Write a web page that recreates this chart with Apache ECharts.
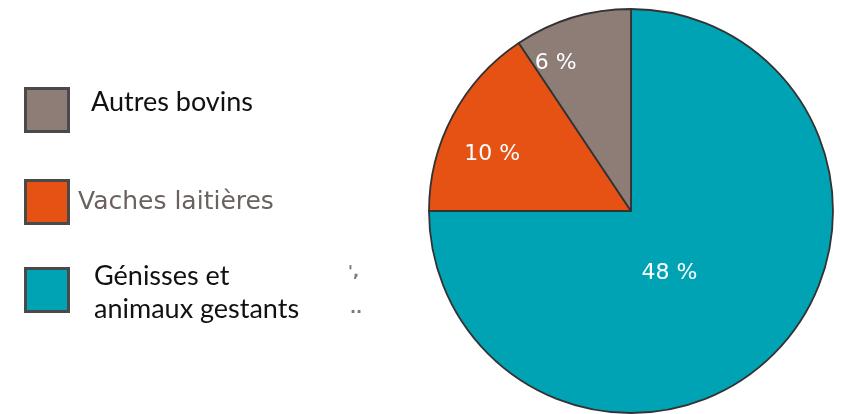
<!DOCTYPE html>
<html>
<head>
<meta charset="utf-8">
<script src="https://cdn.jsdelivr.net/npm/echarts@6/dist/echarts.min.js"></script>
<style>
  html, body { margin: 0; padding: 0; background: #ffffff; }
  #chart { width: 849px; height: 414px; }
</style>
</head>
<body>
<div id="chart"></div>
<script>
// Répartition du cheptel (parts en %)
const categories = ['Génisses et animaux gestants', 'Vaches laitières', 'Autres bovins'];
const values = [48, 10, 6];
const colors = ['#00a3b4', '#e65114', '#8e7d76'];

// Légende : ordre d'affichage et libellés
const legendOrder = [2, 1, 0];
const legendLabels = ['Génisses et\nanimaux gestants', 'Vaches laitières', 'Autres bovins'];

// Décalage des étiquettes de pourcentage par rapport à leur position intérieure
const labelShift = [[-35, -11], [-47, -8], [-45, -48]];

const chart = echarts.init(document.getElementById('chart'), null, { renderer: 'canvas' });

// Mise en forme de la légende (cases + textes)
const legendBox = [ { top: 267 }, { top: 179 }, { top: 87 } ];
const legendTextStyle = [
  { x: 94, y: 293, font: { fontFamily: 'Lato', fontSize: 27, fill: '#111111', lineHeight: 33 } },
  { x: 78, y: 202, font: { fontFamily: 'DejaVu Sans', fontSize: 25, fill: '#6b625e' } },
  { x: 91, y: 102, font: { fontFamily: 'Lato', fontSize: 27, fill: '#111111' } }
];

const legendGraphics = [];
legendOrder.forEach(i => {
  legendGraphics.push({
    type: 'rect',
    shape: { x: 25.5, y: legendBox[i].top + 1.5, width: 43, height: 43 },
    style: { fill: colors[i], stroke: '#4a4a4a', lineWidth: 3 },
    silent: true
  });
  legendGraphics.push({
    type: 'text',
    x: legendTextStyle[i].x,
    y: legendTextStyle[i].y,
    style: Object.assign({ text: legendLabels[i], verticalAlign: 'middle', align: 'left' }, legendTextStyle[i].font),
    silent: true
  });
});

// Petites traces grises à droite de la légende
legendGraphics.push(
  { type: 'text', x: 348, y: 265, style: { text: "',", fontSize: 16, fontWeight: 'bold', fontFamily: 'DejaVu Sans', fill: '#7a7a7a' }, silent: true },
  { type: 'text', x: 350, y: 301, style: { text: '..', fontSize: 16, fontWeight: 'bold', fontFamily: 'DejaVu Sans', fill: '#7a7a7a' }, silent: true }
);

chart.setOption({
  animation: false,
  backgroundColor: '#ffffff',
  graphic: legendGraphics,
  series: [{
    type: 'pie',
    center: [631, 211],
    radius: 202,
    startAngle: 90,
    clockwise: true,
    silent: true,
    itemStyle: { borderColor: '#333333', borderWidth: 1.8 },
    label: {
      show: true,
      position: 'inside',
      formatter: p => p.value + ' %',
      color: '#ffffff',
      fontFamily: 'DejaVu Sans',
      fontSize: 22
    },
    labelLayout: p => ({ dx: labelShift[p.dataIndex][0], dy: labelShift[p.dataIndex][1] }),
    data: categories.map((c, i) => ({ name: c, value: values[i], itemStyle: { color: colors[i] } }))
  }]
});
</script>
</body>
</html>
